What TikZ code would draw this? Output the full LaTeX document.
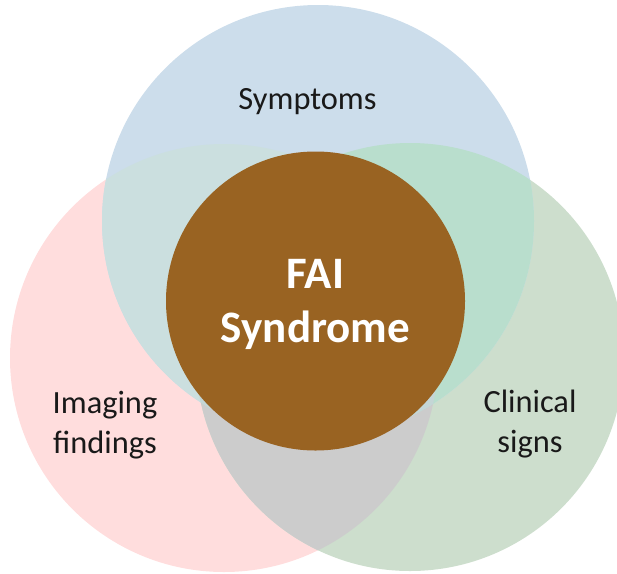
\documentclass[tikz,border=0pt]{standalone}
\usepackage{fontspec}
\setmainfont{Carlito}
\definecolor{cblue}{HTML}{CCDDEB}
\definecolor{cpink}{HTML}{FFDDDD}
\definecolor{cgreen}{HTML}{CDDECD}
\definecolor{cbp}{HTML}{CBDFDF}
\definecolor{cbg}{HTML}{B9DECD}
\definecolor{cpg}{HTML}{CCCCCC}
\definecolor{cbpg}{HTML}{C4D6D6}
\definecolor{cbrown}{HTML}{996322}
\tikzset{
  label/.style={text=black!90, font=\fontsize{32.4}{40}\selectfont, align=center, inner sep=0pt, anchor=base},
  core/.style={text=white, font=\fontsize{45}{54}\selectfont\bfseries, align=center, inner sep=0pt, anchor=base}
}
\begin{document}
\begin{tikzpicture}[x=1pt,y=-1pt]
\useasboundingbox (0,0) rectangle (617,573);
\coordinate (cb) at (318,221);
\coordinate (cp) at (224,358);
\coordinate (cg) at (410,357);
\coordinate (cc) at (315.5,301);
% single regions
\fill[cpink] (cp) circle[radius=214pt];
\fill[cgreen] (cg) circle[radius=214pt];
\fill[cblue] (cb) circle[radius=216pt];
% pairwise overlaps
\begin{scope}
  \clip (cp) circle[radius=214pt];
  \fill[cpg] (cg) circle[radius=214pt];
\end{scope}
\begin{scope}
  \clip (cb) circle[radius=216pt];
  \fill[cbp] (cp) circle[radius=214pt];
\end{scope}
\begin{scope}
  \clip (cb) circle[radius=216pt];
  \fill[cbg] (cg) circle[radius=214pt];
\end{scope}
\begin{scope}
  \clip (cb) circle[radius=216pt];
  \clip (cp) circle[radius=214pt];
  \fill[cbpg] (cg) circle[radius=214pt];
\end{scope}
% core
\fill[cbrown] (cc) circle[radius=149.5pt];
% labels
\node[label] (sym) at (307.5,109) {Symptoms};
\node[label] (img) at (105,453) {Imaging\\findings};
\node[label] (cli) at (530,452) {Clinical\\signs};
\node[core] (fai) at (315.5,342) {FAI\\Syndrome};
\end{tikzpicture}
\end{document}
